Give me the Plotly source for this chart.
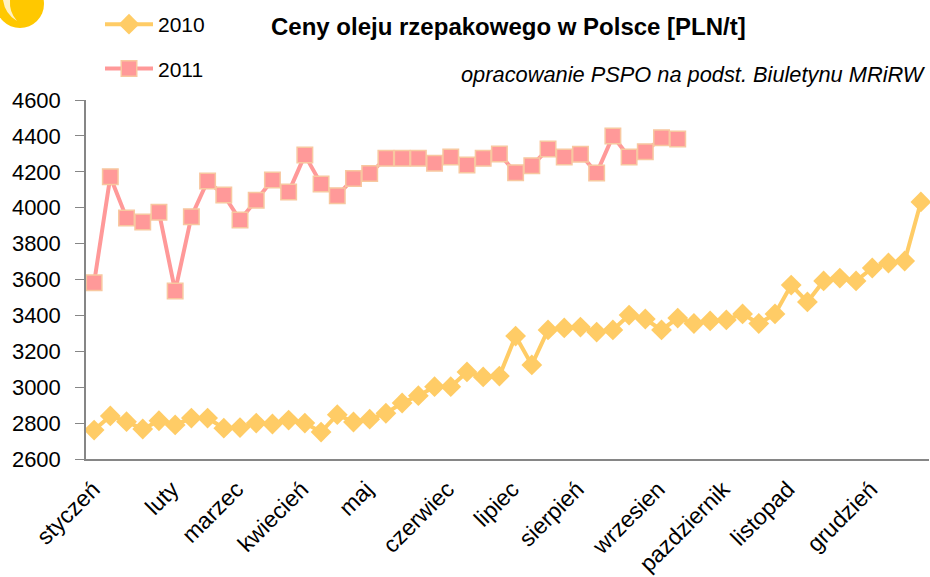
import plotly.graph_objects as go

weeks = list(range(52))
values_2010 = [2761, 2840, 2808, 2767, 2813, 2790, 2828, 2828, 2772, 2775, 2800, 2795, 2817, 2800, 2750,
               2847, 2806, 2822, 2855, 2912, 2953, 3003, 3003, 3085, 3057, 3062, 3285, 3124, 3319, 3330,
               3335, 3307, 3319, 3402, 3380, 3319, 3385, 3355, 3369, 3375, 3408, 3355, 3408, 3569, 3475,
               3592, 3608, 3592, 3664, 3692, 3703, 4032]
values_2011 = [3582, 4173, 3943, 3920, 3975, 3536, 3950, 4149, 4071, 3931, 4042, 4154, 4087, 4293, 4132,
               4067, 4163, 4190, 4275, 4275, 4275, 4248, 4283, 4238, 4275, 4299, 4195, 4234, 4327, 4282,
               4298, 4193, 4399, 4282, 4312, 4390, 4383]
month_weeks = [-0.05, 4.8, 8.8, 12.8, 16.8, 21.8, 25.8, 29.8, 34.8, 38.8, 42.8, 47.9]
month_labels = ["styczeń", "luty", "marzec", "kwiecień", "maj", "czerwiec", "lipiec", "sierpień",
                "wrzesien", "pazdziernik", "listopad", "grudzień"]
y_ticks = [2600, 2800, 3000, 3200, 3400, 3600, 3800, 4000, 4200, 4400, 4600]

FONT = "Liberation Sans"
L, R, T, B = 86, 929, 100, 459


def px(x):
    return (x - L) / (R - L)


def py(y):
    return (B - y) / (B - T)


fig = go.Figure()
fig.add_trace(go.Scatter(x=weeks, y=values_2010, name="2010", mode="lines+markers", legendgroup="a",
                         line=dict(color="#FFCC66", width=4),
                         marker=dict(symbol="diamond", size=16, color="#FFCC66"), cliponaxis=False))
fig.add_trace(go.Scatter(x=weeks[:len(values_2011)], y=values_2011, name="2011", mode="lines+markers", legendgroup="b",
                         line=dict(color="#FF9999", width=4),
                         marker=dict(symbol="square", size=15.5, color="#FF9999",
                                     line=dict(color="#F8C8A0", width=1.5)), cliponaxis=False))

crescent = (f"M {px(3)} {py(0)} Q {px(5)} {py(14)} {px(17)} {py(21)} "
            f"Q {px(9)} {py(12)} {px(10)} {py(0)} Z")

fig.update_layout(
    width=930, height=577, margin=dict(l=L, r=930 - R, t=T, b=577 - B), autosize=False,
    paper_bgcolor="white", plot_bgcolor="white", font=dict(family=FONT, color="black"),
    showlegend=True,
    legend=dict(x=px(100), y=py(4), xanchor="left", yanchor="top", xref="paper", yref="paper",
                bgcolor="rgba(0,0,0,0)", font=dict(size=21), tracegroupgap=14, itemwidth=48),
    xaxis=dict(range=[-0.5, 51.5], tickmode="array", tickvals=month_weeks, ticktext=month_labels, tickangle=-45,
               tickfont=dict(size=23), showgrid=False, zeroline=False, showline=True, linecolor="#868686",
               linewidth=1.5, ticks="", ticklabelstandoff=6, automargin=False),
    yaxis=dict(range=[2600, 4600], tickmode="array", tickvals=y_ticks, tickfont=dict(size=22), showgrid=False,
               zeroline=False, showline=True, linecolor="#868686", linewidth=1.5, ticks="outside", ticklen=9,
               tickcolor="#868686", tickwidth=1, ticklabelstandoff=10, automargin=False),
    shapes=[
        dict(type="circle", xref="paper", yref="paper", x0=px(-4), x1=px(44), y0=py(28), y1=py(-20),
             fillcolor="#FFC800", line_width=0, layer="above"),
        dict(type="path", xref="paper", yref="paper", path=crescent, fillcolor="#FFF1C4", line_width=0, layer="above"),
    ],
    annotations=[
        dict(text="<b>Ceny oleju rzepakowego w Polsce [PLN/t]</b>", xref="paper", yref="paper",
             x=px(508), y=py(27), showarrow=False, font=dict(size=24), xanchor="center", yanchor="middle"),
        dict(text="<i>opracowanie PSPO na podst. Biuletynu MRiRW</i>", xref="paper", yref="paper",
             x=px(928), y=py(74), showarrow=False, font=dict(size=21.8), xanchor="right", yanchor="middle"),
    ],
)
fig.write_html("out.html", config=dict(displayModeBar=False), post_script="document.body.style.margin='0';")
